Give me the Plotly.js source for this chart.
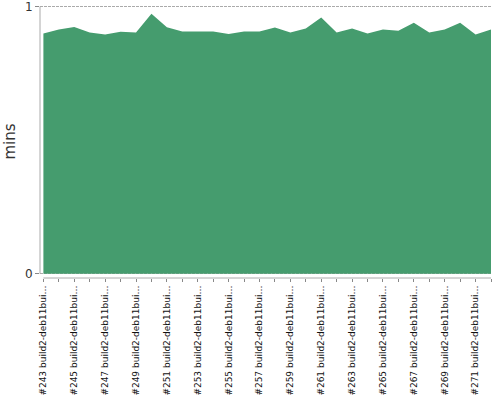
<!DOCTYPE html>
<html>
<head>
<meta charset="utf-8">
<script src="https://cdn.plot.ly/plotly-3.0.1.min.js"></script>
<style>html,body{margin:0;padding:0;background:#fff;}#chart{width:500px;height:400px;}</style>
</head>
<body>
<div id="chart"></div>
<script>
const categories = [
  "#243 build2-deb11bui…", "#244 build2-deb11bui…", "#245 build2-deb11bui…", "#246 build2-deb11bui…",
  "#247 build2-deb11bui…", "#248 build2-deb11bui…", "#249 build2-deb11bui…", "#250 build2-deb11bui…",
  "#251 build2-deb11bui…", "#252 build2-deb11bui…", "#253 build2-deb11bui…", "#254 build2-deb11bui…",
  "#255 build2-deb11bui…", "#256 build2-deb11bui…", "#257 build2-deb11bui…", "#258 build2-deb11bui…",
  "#259 build2-deb11bui…", "#260 build2-deb11bui…", "#261 build2-deb11bui…", "#262 build2-deb11bui…",
  "#263 build2-deb11bui…", "#264 build2-deb11bui…", "#265 build2-deb11bui…", "#266 build2-deb11bui…",
  "#267 build2-deb11bui…", "#268 build2-deb11bui…", "#269 build2-deb11bui…", "#270 build2-deb11bui…",
  "#271 build2-deb11bui…", "#272 build2-deb11bui…"
];
const mins = [
  0.899, 0.914, 0.924, 0.903, 0.896, 0.906, 0.903, 0.973, 0.923, 0.907,
  0.907, 0.907, 0.897, 0.907, 0.907, 0.922, 0.903, 0.918, 0.959, 0.903,
  0.918, 0.899, 0.914, 0.910, 0.940, 0.903, 0.914, 0.940, 0.896, 0.914
];
const yTicks = [0, 1];
const yTitle = "mins";

const xIdx = categories.map((c, i) => i);
const tickText = categories.map((c, i) => (i % 2 === 0 ? c : ""));

const trace = {
  type: "scatter",
  mode: "lines",
  x: xIdx,
  y: mins,
  fill: "tozeroy",
  fillcolor: "#459c6e",
  line: {width: 0, color: "#459c6e"},
  hoverinfo: "skip"
};

const layout = {
  width: 500,
  height: 400,
  margin: {l: 40, r: 9, t: 5, b: 122},
  paper_bgcolor: "#fff",
  plot_bgcolor: "#fff",
  showlegend: false,
  font: {family: "DejaVu Sans", color: "#333"},
  xaxis: {
    type: "linear",
    range: [-0.22, categories.length - 1],
    tickmode: "array",
    tickvals: xIdx,
    ticktext: tickText,
    tickangle: -90,
    ticks: "outside",
    ticklen: 3,
    tickcolor: "#888",
    tickfont: {family: "DejaVu Sans", size: 9, color: "#111"},
    showgrid: false,
    zeroline: false,
    showline: false,
    automargin: false
  },
  yaxis: {
    range: [-0.016, 1.006],
    tickmode: "array",
    tickvals: yTicks,
    ticktext: yTicks.map(String),
    ticks: "outside",
    ticklen: 4,
    tickcolor: "#888",
    tickfont: {family: "DejaVu Sans", size: 12, color: "#333"},
    ticklabeloverflow: "allow",
    showgrid: true,
    gridcolor: "#aaa",
    griddash: "3px,1px",
    gridwidth: 1,
    zeroline: false,
    showline: false,
    automargin: false,
    title: {text: yTitle, standoff: 5, font: {family: "DejaVu Sans", size: 15, color: "#333"}}
  },
  shapes: [
    {type: "line", xref: "paper", yref: "y", x0: 0, x1: 0, y0: 0, y1: 1, line: {color: "#aaa", width: 1}},
    {type: "line", xref: "x", yref: "paper", x0: 0, x1: categories.length - 1, y0: 0, y1: 0, line: {color: "#aaa", width: 1}}
  ]
};

Plotly.newPlot("chart", [trace], layout, {displayModeBar: false, staticPlot: true});
</script>
</body>
</html>
